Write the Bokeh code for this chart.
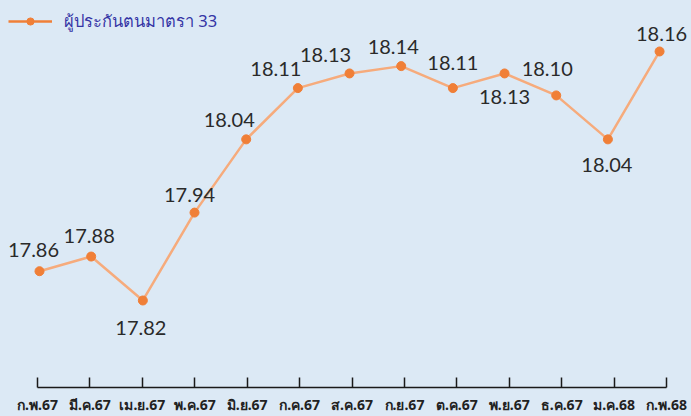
from bokeh.plotting import figure
from bokeh.models import ColumnDataSource, Range1d, LinearAxis, FixedTicker, Legend, LegendItem
from bokeh.core.properties import value
from bokeh.embed import file_html
from bokeh.resources import INLINE

months = ["ก.พ.67", "มี.ค.67", "เม.ย.67", "พ.ค.67", "มิ.ย.67", "ก.ค.67", "ส.ค.67",
          "ก.ย.67", "ต.ค.67", "พ.ย.67", "ธ.ค.67", "ม.ค.68", "ก.พ.68"]
values = [17.86, 17.88, 17.82, 17.94, 18.04, 18.11, 18.13, 18.14, 18.11, 18.13, 18.10, 18.04, 18.16]
series_name = "ผู้ประกันตนมาตรา 33"

# label placement (style only, in screen pixels)
label_dx = [-6, -2, -2, -5, -17, -22, -24, -8, 0, 0, -9, -1, 2]
label_dy = [-21, -21, 28, -18, -19, -19, -18, -19, -25, 24, -26, 26, -17]

idx = list(range(len(months)))
src = ColumnDataSource(dict(
    x=idx, y=values,
    txt=[f"{v:.2f}" for v in values],
    dx=label_dx, dy=label_dy,
))

BG = "#dce9f5"
p = figure(frame_width=691, frame_height=387,
           x_range=Range1d(-0.7548, 12.618), y_range=Range1d(17.7012, 18.2296),
           output_backend="svg", toolbar_location=None,
           min_border_left=0, min_border_right=0, min_border_top=0, min_border_bottom=0,
           background_fill_color=BG, border_fill_color=BG, outline_line_color=None)
p.xaxis.visible = False
p.yaxis.visible = False
p.xgrid.visible = False
p.ygrid.visible = False

p.extra_x_ranges = {"ax": Range1d(-0.7058, 12.476), "offscreen": Range1d(1000, 1001)}
ax = LinearAxis(x_range_name="ax", ticker=FixedTicker(ticks=idx),
                major_label_overrides={i: m for i, m in enumerate(months)},
                bounds=(0, len(months) - 1))
ax.axis_line_color = "#1a1a1a"
ax.axis_line_width = 1.5
ax.major_tick_line_color = "#1a1a1a"
ax.major_tick_line_width = 1.5
ax.major_tick_in = 10
ax.major_tick_out = 0
ax.minor_tick_line_color = None
ax.major_label_text_font = "Noto Sans"
ax.major_label_text_font_style = "bold"
ax.major_label_text_font_size = "14px"
ax.major_label_text_color = "#222222"
ax.major_label_standoff = 7
p.add_layout(ax, "below")

ln = p.line("x", "y", source=src, line_color="#f6ab7c", line_width=2.5)
sc = p.scatter("x", "y", source=src, size=9, fill_color="#f07f37", line_color="#f07f37")

p.text("x", "y", text="txt", source=src, x_offset="dx", y_offset="dy",
       text_align="center", text_baseline="middle",
       text_font=value("Lato"), text_font_size="20px", text_color="#2a2a2a")

# legend-only swatch (darker orange key); its data maps far outside the frame
lg_ln = p.line("x", "y", source=src, x_range_name="offscreen", line_color="#f07f37", line_width=2.5)
lg_sc = p.scatter("x", "y", source=src, x_range_name="offscreen", size=11,
                  fill_color="#f07f37", line_color="#f07f37")

legend = Legend(items=[LegendItem(label=series_name, renderers=[lg_ln, lg_sc])],
                location="top_left", background_fill_alpha=0, border_line_color=None,
                margin=8, padding=0, glyph_width=44, glyph_height=18, label_height=18,
                label_standoff=12, label_text_font="Noto Sans", label_text_font_size="16.5px",
                label_text_color="#3535a5")
p.add_layout(legend)

html = file_html(p, INLINE)
html = html.replace("<head>", "<head><style>body{background:%s;}</style>" % BG, 1)
open("out.html", "w").write(html)
